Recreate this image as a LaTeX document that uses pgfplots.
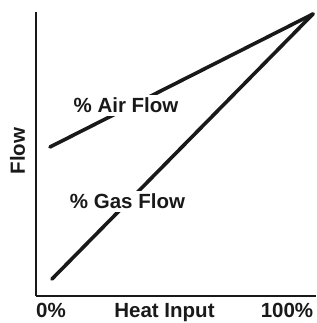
\documentclass[border=0pt]{standalone}
\usepackage{fontspec}
\setmainfont{Liberation Sans}
\usepackage{pgfplots}
\pgfplotsset{compat=1.18}
\begin{document}
\begin{tikzpicture}
\useasboundingbox (-36pt,-27pt) rectangle (280pt,296pt);
\begin{axis}[
  anchor=origin, at={(0pt,0pt)},
  scale only axis, width=280pt, height=284pt,
  xmin=0, xmax=280, ymin=0, ymax=284,
  axis x line=bottom, axis y line=left,
  axis line style={-, line width=1.8pt, black!90},
  xtick=\empty, ytick=\empty,
  clip=false,
]
\addplot[black!90, no markers, line width=3.6pt, line cap=round] coordinates {(14,149) (277,282)};
\addplot[black!90, no markers, line width=3.6pt, line cap=round] coordinates {(16,17) (277,282)};
\node[anchor=base, fill=white, inner sep=3pt, text=black!90, font=\fontsize{20.5}{24}\selectfont\bfseries] at (axis cs:90,183) {\% Air Flow};
\node[anchor=base, fill=white, inner sep=3pt, text=black!90, font=\fontsize{20.5}{24}\selectfont\bfseries] at (axis cs:91.5,87) {\% Gas Flow};
\node[anchor=base, inner sep=0pt, text=black!90, font=\fontsize{20.5}{24}\selectfont\bfseries] at (axis cs:15,-21) {0\%};
\node[anchor=base, inner sep=0pt, text=black!90, font=\fontsize{20.5}{24}\selectfont\bfseries] at (axis cs:128.5,-21) {Heat Input};
\node[anchor=base, inner sep=0pt, text=black!90, font=\fontsize{20.5}{24}\selectfont\bfseries] at (axis cs:251,-21) {100\%};
\node[anchor=base, rotate=90, inner sep=0pt, text=black!90, font=\fontsize{20.5}{24}\selectfont\bfseries] at (axis cs:-11,145) {Flow};
\end{axis}
\end{tikzpicture}
\end{document}
